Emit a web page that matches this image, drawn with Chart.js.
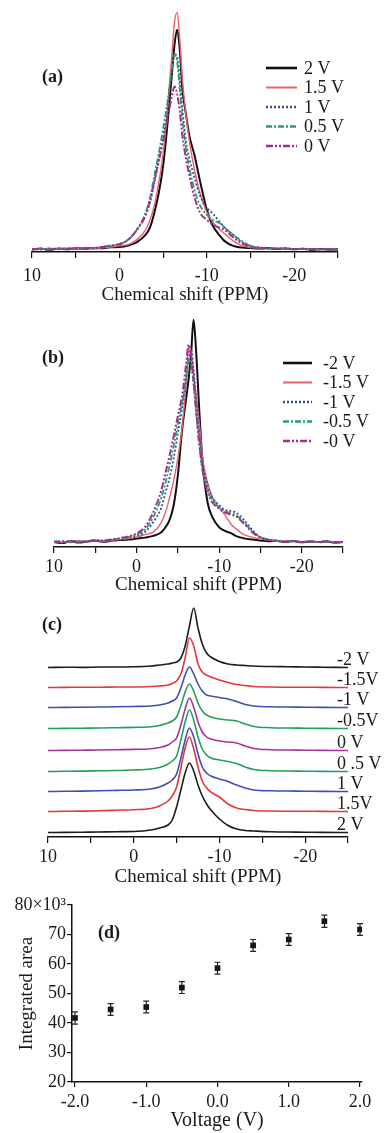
<!DOCTYPE html>
<html>
<head>
<meta charset="utf-8">
<script src="https://cdn.jsdelivr.net/npm/chart.js@4.4.1/dist/chart.umd.min.js"></script>
<style>
    html, body { margin: 0; padding: 0; background: #fff; }
    #page { position: relative; width: 387px; height: 1133px; overflow: hidden; }
    canvas { position: absolute; left: 0; }
</style>
</head>
<body>
<div id="page">
    <canvas id="chartA" width="387" height="310" style="top:0px"></canvas>
    <canvas id="chartB" width="387" height="300" style="top:296px"></canvas>
    <canvas id="chartC" width="387" height="295" style="top:596px"></canvas>
    <canvas id="chartD" width="387" height="242" style="top:891px"></canvas>
</div>
<script>
// Chemical shift sample points (ppm) used by panels (a) and (b)
const shiftGrid = [10, 9, 8, 7, 6, 5, 4, 3, 2, 1, 0, -1, -2, -3, -3.5, -4, -4.5, -5, -5.5, -6, -6.3, -6.6, -6.9, -7.2, -7.6, -8, -8.6, -9.2, -10, -10.7, -11.5, -12, -13, -14, -15, -16, -17, -18, -19, -20, -21, -22, -23, -24, -25];

// Panel (a): positive voltages (intensity, arbitrary units)
const labelsA = ['2 V', '1.5 V', '1 V', '0.5 V', '0 V'];
const a2V  = [1.0, 1.4, 0.9, 1.3, 1.1, 1.5, 1.3, 1.6, 1.5, 1.9, 2.0, 2.6, 4, 7, 10, 16, 24, 35, 52, 72, 84, 90, 82, 66, 56, 47, 39, 29, 17, 10.5, 6.5, 4.5, 2.5, 1.8, 1.6, 1.4, 1.6, 1.2, 1.4, 1.1, 1.3, 0.9, 1.2, 1.0, 1.1];
const a15V = [1.1, 1.2, 1.5, 1.0, 1.4, 1.2, 1.6, 1.3, 1.7, 2.0, 2.5, 3, 5, 9, 13, 19, 28, 40, 58, 80, 93, 97, 86, 70, 56, 45, 33, 24, 16, 12, 9, 7.5, 4.5, 2.6, 1.8, 1.5, 1.3, 1.5, 1.2, 1.3, 1.1, 1.2, 1.0, 1.2, 1.0];
const a1V  = [1.2, 1.0, 1.4, 1.2, 1.5, 1.3, 1.7, 1.5, 2.0, 2.6, 3.2, 5, 9, 15, 20, 28, 37, 47, 59, 73, 80, 79, 70, 58, 45, 38, 30, 23, 18, 15.5, 12, 10, 7, 4, 2.5, 1.8, 1.5, 1.3, 1.4, 1.2, 1.3, 1.0, 1.2, 1.1, 1.0];
const a05V = [1.0, 1.3, 1.1, 1.4, 1.2, 1.5, 1.4, 1.7, 2.1, 2.7, 3.3, 5, 9, 16, 22, 31, 40, 50, 61, 74, 80, 77, 66, 54, 42, 34, 25, 19, 15, 13, 11.5, 10, 7, 4.5, 2.5, 1.8, 1.5, 1.4, 1.2, 1.3, 1.1, 1.2, 1.0, 1.1, 1.0];
const a0V  = [1.1, 1.2, 1.0, 1.5, 1.3, 1.4, 1.6, 1.5, 2.0, 2.5, 3.1, 5, 9, 15, 21, 29, 37, 45, 54, 63, 67, 64, 57, 47, 38, 31, 22, 16, 13, 11, 9.8, 9, 6, 3.5, 2.2, 1.6, 1.4, 1.3, 1.5, 1.2, 1.3, 1.1, 1.2, 1.0, 1.1];

// Panel (b): negative voltages
const labelsB = ['-2 V', '-1.5 V', '-1 V', '-0.5 V', '-0 V'];
const bm2V  = [2.0, 1.6, 2.3, 1.8, 2.2, 2.5, 2.1, 2.6, 2.8, 3.0, 3.4, 3.8, 4.5, 6, 8, 11, 17, 29, 47, 60, 68, 78, 92, 80, 55, 34, 18, 12, 8, 6.5, 5.5, 4.5, 3.5, 3, 2.6, 2.3, 2.5, 2.0, 2.4, 1.9, 2.2, 2.0, 2.3, 1.8, 2.0];
const bm15V = [2.2, 1.8, 2.4, 2.0, 2.3, 2.6, 2.2, 2.8, 3.0, 3.4, 4.0, 5.0, 6.0, 10, 14, 20, 27, 36, 48, 66, 81, 79, 70, 62, 50, 36, 26, 20, 16, 13, 9, 7.5, 5, 4, 3.2, 2.8, 2.4, 2.1, 2.5, 2.0, 2.3, 2.1, 2.2, 1.9, 2.0];
const bm1V  = [2.0, 2.3, 1.9, 2.4, 2.1, 2.6, 2.4, 2.9, 3.2, 3.8, 4.5, 6, 10, 16, 22, 28, 36, 46, 56, 68, 76, 80, 72, 60, 45, 34, 25, 20, 17, 15, 14.5, 14, 11, 7, 4, 3, 2.6, 2.3, 2.5, 2.1, 2.2, 2.0, 2.3, 1.9, 2.1];
const bm05V = [2.1, 2.4, 2.0, 2.3, 2.2, 2.7, 2.5, 3.0, 3.4, 4.0, 5.0, 7, 12, 20, 26, 33, 41, 50, 58, 69, 76, 74, 66, 55, 41, 31, 23, 19, 16, 14.5, 13.5, 13, 10, 6.5, 4, 3, 2.5, 2.2, 2.4, 2.0, 2.3, 1.9, 2.2, 2.0, 2.1];
const bm0V  = [2.2, 1.9, 2.5, 2.1, 2.4, 2.8, 2.6, 3.1, 3.6, 4.3, 5.5, 8, 14, 23, 30, 37, 45, 53, 61, 74, 82, 77, 67, 56, 42, 31, 22, 18, 15.5, 14, 13, 12.5, 9.5, 6, 3.8, 2.8, 2.4, 2.2, 2.3, 2.0, 2.2, 2.0, 2.1, 1.9, 2.0];

// Panel (c): stacked spectra, each with its own baseline offset
const stackGrid = [10, 8, 6, 4, 2, 0, -2, -3, -4, -4.5, -5, -5.5, -6, -6.5, -7, -7.5, -8, -8.5, -9, -10, -11, -12, -13, -14, -16, -18, -20, -22, -25];
const stackLabels = ['-2 V', '-1.5V', '-1 V', '-0.5V', '0 V', '0 .5 V', '1 V', '1.5V', '2 V'];
const stackBase = [169, 149, 129, 108, 86, 65, 45, 25, 4];
const cm2V  = [0.5, 0.8, 0.6, 1.0, 1.0, 1.2, 2, 3, 4, 5, 6, 10, 22, 42, 60, 40, 24, 15, 11, 6.5, 4, 3, 2.5, 2, 1.5, 1.3, 1, 0.8, 0.5];
const cm15V = [0.5, 0.6, 0.8, 0.8, 1.0, 1.0, 1.5, 2, 3, 4.5, 7, 14, 30, 50, 42, 24, 16, 13, 11, 8, 5.5, 3.5, 2.5, 1.5, 1, 0.8, 0.8, 0.6, 0.5];
const cm1V  = [0.5, 0.6, 0.8, 1.0, 1.2, 1.5, 2, 3, 5, 7, 10, 20, 33, 41, 34, 24, 17, 13, 12, 10.5, 9, 6.5, 3.5, 2, 1.2, 1, 0.8, 0.6, 0.5];
const cm05V = [0.5, 0.6, 0.8, 1.0, 1.3, 1.6, 2.2, 3.5, 6, 8, 12, 23, 37, 45, 38, 26, 18, 14, 12, 10, 9, 8, 5, 2.5, 1.3, 1, 0.8, 0.6, 0.5];
const c0V   = [0.5, 0.6, 0.8, 1.0, 1.3, 1.6, 2.2, 3.5, 6, 9, 13, 26, 42, 53, 44, 29, 19, 14, 12, 10, 9, 8, 5, 2.5, 1.3, 1, 0.8, 0.6, 0.5];
const c05V  = [0.5, 0.7, 0.9, 1.2, 1.5, 2.0, 3, 4.5, 8, 11, 16, 32, 50, 62, 52, 35, 23, 17, 14, 12, 10.5, 8.5, 5, 2.5, 1.3, 1, 0.8, 0.6, 0.5];
const c1V   = [0.5, 0.7, 0.9, 1.2, 1.6, 2.0, 3, 5, 9, 12, 18, 34, 52, 64, 55, 38, 25, 19, 16, 13, 10.5, 7, 4, 2, 1.2, 1, 0.8, 0.6, 0.5];
const c15V  = [0.5, 0.7, 0.9, 1.3, 1.8, 2.3, 3.5, 6, 11, 16, 25, 44, 64, 75, 63, 45, 31, 24, 20, 15, 8, 4, 2.5, 1.5, 1, 0.8, 0.8, 0.6, 0.5];
const c2V   = [0.5, 0.6, 0.8, 1.0, 1.3, 1.5, 3, 5, 8, 13, 26, 43, 60, 70, 62, 48, 37, 29, 23, 14, 7.5, 4, 2.5, 2, 1.2, 1, 0.8, 0.6, 0.5];
const stackShapes = [cm2V, cm15V, cm1V, cm05V, c0V, c05V, c1V, c15V, c2V];
const stackColors = ['#1c1c1c', '#e2383c', '#3f4fb0', '#22a05a', '#a8329a', '#22a05a', '#3f4fb0', '#e2383c', '#1c1c1c'];

// Panel (d): integrated area vs voltage (x10^3)
const voltages = [-2, -1.5, -1, -0.5, 0, 0.5, 1, 1.5, 2];
const areas = [41.7, 44.6, 45.4, 52.0, 58.6, 66.3, 68.3, 74.5, 71.7];
const areaErr = [2.1, 2.0, 2.0, 2.0, 2.0, 2.0, 2.0, 2.1, 2.0];
const voltTicks = [-2, -1, 0, 1, 2];

const serif = '"Liberation Serif", "Times New Roman", serif';
const ink = '#1a1a1a';
Chart.defaults.font.family = serif;
Chart.defaults.color = ink;

function toPoints(grid, vals) {
    return grid.map((x, i) => ({ x: x, y: vals[i] }));
}

// Plugins: legend swatches, panel tags, stack labels, error bars
const legendLines = {
    id: 'legendLines',
    afterDraw(chart, args, opts) {
        const ctx = chart.ctx;
        ctx.save();
        ctx.font = '18px ' + serif;
        ctx.textBaseline = 'middle';
        chart.data.datasets.forEach((ds, i) => {
            const y = opts.y + i * opts.gap;
            ctx.strokeStyle = ds.borderColor;
            ctx.lineWidth = ds.borderWidth + 0.6;
            ctx.setLineDash(ds.borderDash || []);
            ctx.beginPath();
            ctx.moveTo(opts.x, y);
            ctx.lineTo(opts.x + opts.len, y);
            ctx.stroke();
            ctx.setLineDash([]);
            ctx.fillStyle = ink;
            ctx.fillText(ds.label, opts.textX, y + 1);
        });
        ctx.restore();
    }
};

const panelTag = {
    id: 'panelTag',
    afterDraw(chart, args, opts) {
        const ctx = chart.ctx;
        ctx.save();
        ctx.font = 'bold 18px ' + serif;
        ctx.fillStyle = ink;
        ctx.textBaseline = 'middle';
        ctx.fillText(opts.text, opts.x, opts.y);
        ctx.restore();
    }
};

const stackTags = {
    id: 'stackTags',
    afterDraw(chart) {
        const ctx = chart.ctx;
        const yScale = chart.scales.y;
        ctx.save();
        ctx.font = '18px ' + serif;
        ctx.fillStyle = ink;
        ctx.textBaseline = 'alphabetic';
        stackLabels.forEach((lab, i) => {
            ctx.fillText(lab, 337, yScale.getPixelForValue(stackBase[i]) - 3);
        });
        ctx.restore();
    }
};

const errorBars = {
    id: 'errorBars',
    afterDatasetsDraw(chart) {
        const ctx = chart.ctx;
        const xs = chart.scales.x, ys = chart.scales.y;
        ctx.save();
        ctx.strokeStyle = '#222';
        ctx.lineWidth = 1.2;
        voltages.forEach((v, i) => {
            const x = xs.getPixelForValue(v);
            const top = ys.getPixelForValue(areas[i] + areaErr[i]);
            const bot = ys.getPixelForValue(areas[i] - areaErr[i]);
            ctx.beginPath();
            ctx.moveTo(x, top); ctx.lineTo(x, bot);
            ctx.moveTo(x - 3, top); ctx.lineTo(x + 3, top);
            ctx.moveTo(x - 3, bot); ctx.lineTo(x + 3, bot);
            ctx.stroke();
        });
        ctx.restore();
    }
};

function shiftAxis(height, tickPad, titlePad) {
    return {
        type: 'linear',
        reverse: true,
        min: -25,
        max: 10,
        afterFit: function(scale) { scale.height = height; },
        border: { display: true, color: '#111', width: 1.5 },
        grid: { display: true, drawOnChartArea: false, drawTicks: true, tickLength: 6, color: '#111', lineWidth: 1.2 },
        ticks: {
            stepSize: 5,
            autoSkip: false,
            maxRotation: 0,
            padding: tickPad,
            color: ink,
            font: { size: 18 },
            callback: function(value) {
                return value % 10 === 0 ? String(value) : '';
            }
        },
        title: {
            display: true,
            text: 'Chemical shift (PPM)',
            color: ink,
            font: { size: 19 },
            padding: { top: 0, bottom: titlePad }
        }
    };
}

function spectrumOptions(pad, xAxis, yMax, extra) {
    return {
        responsive: false,
        animation: false,
        devicePixelRatio: 1,
        layout: { padding: pad },
        elements: { point: { radius: 0 }, line: { cubicInterpolationMode: 'monotone' } },
        plugins: Object.assign({ legend: { display: false }, tooltip: { enabled: false } }, extra),
        scales: {
            x: xAxis,
            y: { display: false, min: 0, max: yMax }
        }
    };
}

// Panel (a)
const stylesAB = [
    { color: '#111111', width: 2, dash: [] },
    { color: '#e8606a', width: 1.4, dash: [] },
    { color: '#3a4d9a', width: 1.8, dash: [2, 2] },
    { color: '#2c9e6a', width: 1.8, dash: [6, 2, 2, 2] },
    { color: '#a0308c', width: 2, dash: [7, 2, 2, 2, 2, 2] }
];

function spectrumSets(labels, series) {
    return series.map((vals, i) => ({
        label: labels[i],
        data: toPoints(shiftGrid, vals),
        borderColor: stylesAB[i].color,
        borderWidth: stylesAB[i].width,
        borderDash: stylesAB[i].dash,
        fill: false
    })).reverse();
}

const setsA = spectrumSets(labelsA, [a2V, a15V, a1V, a05V, a0V]);
new Chart(document.getElementById('chartA'), {
    type: 'line',
    data: { datasets: setsA },
    options: spectrumOptions({ top: 5, left: 32, right: 49, bottom: 0 }, shiftAxis(58, 7, 4), 100, {
        legendLines: { x: 266, y: 68, gap: 19.5, len: 31, textX: 304, reversed: true },
        panelTag: { text: '(a)', x: 42, y: 77 }
    }),
    plugins: [{
        id: 'legendLines',
        afterDraw(chart, args, opts) {
            // legend lists 2 V first, datasets are drawn in reverse order
            const fake = { ctx: chart.ctx, data: { datasets: chart.data.datasets.slice().reverse() } };
            legendLines.afterDraw(fake, args, opts);
        }
    }, panelTag]
});

// Panel (b)
const setsB = spectrumSets(labelsB, [bm2V, bm15V, bm1V, bm05V, bm0V]);
new Chart(document.getElementById('chartB'), {
    type: 'line',
    data: { datasets: setsB },
    options: spectrumOptions({ top: 4, left: 54, right: 44, bottom: 0 }, shiftAxis(49, 3, 0), 100, {
        legendLines: { x: 283, y: 67, gap: 19.5, len: 29, textX: 323 },
        panelTag: { text: '(b)', x: 42, y: 62 }
    }),
    plugins: [{
        id: 'legendLines',
        afterDraw(chart, args, opts) {
            const fake = { ctx: chart.ctx, data: { datasets: chart.data.datasets.slice().reverse() } };
            legendLines.afterDraw(fake, args, opts);
        }
    }, panelTag]
});

// Panel (c)
const setsC = stackShapes.map((shape, i) => ({
    label: stackLabels[i],
    data: toPoints(stackGrid, shape.map(v => v + stackBase[i])),
    borderColor: stackColors[i],
    borderWidth: 1.6,
    fill: false
}));
new Chart(document.getElementById('chartC'), {
    type: 'line',
    data: { datasets: setsC },
    options: spectrumOptions({ top: 7, left: 48, right: 39, bottom: 0 }, shiftAxis(54, 3, 3), 234, {
        panelTag: { text: '(c)', x: 42, y: 29 }
    }),
    plugins: [stackTags, panelTag]
});

// Panel (d)
new Chart(document.getElementById('chartD'), {
    type: 'scatter',
    data: {
        datasets: [{
            label: 'Integrated area',
            data: voltages.map((v, i) => ({ x: v, y: areas[i] })),
            pointStyle: 'rect',
            pointRadius: 4,
            backgroundColor: '#111',
            borderWidth: 0
        }]
    },
    options: {
        responsive: false,
        animation: false,
        devicePixelRatio: 1,
        layout: { padding: { top: 14, left: 0, right: 25, bottom: 0 } },
        plugins: {
            legend: { display: false },
            tooltip: { enabled: false },
            panelTag: { text: '(d)', x: 98, y: 42 }
        },
        scales: {
            x: {
                type: 'linear',
                min: -2.042,
                max: 2.028,
                afterFit: function(scale) { scale.height = 51; },
                afterBuildTicks: function(scale) { scale.ticks = voltTicks.map(v => ({ value: v })); },
                border: { display: true, color: '#111', width: 1.5 },
                grid: { display: true, drawOnChartArea: false, tickLength: 5, color: '#111', lineWidth: 1.2 },
                ticks: {
                    maxRotation: 0,
                    padding: 4,
                    color: ink,
                    font: { size: 18 },
                    callback: function(value) { return value.toFixed(1); }
                },
                title: { display: true, text: 'Voltage (V)', color: ink, font: { size: 20 }, padding: { top: 0, bottom: 0 } }
            },
            y: {
                min: 20,
                max: 80,
                afterFit: function(scale) { scale.width = 72; },
                border: { display: true, color: '#111', width: 1.5 },
                grid: { display: true, drawOnChartArea: false, tickLength: 5, color: '#111', lineWidth: 1.2 },
                ticks: {
                    stepSize: 10,
                    padding: 1,
                    color: ink,
                    font: { size: 18 },
                    callback: function(value) { return value === 80 ? '80×10³' : String(value); }
                },
                title: { display: true, text: 'Integrated area', color: ink, font: { size: 19 }, padding: { top: 16, bottom: 0 } }
            }
        }
    },
    plugins: [errorBars, panelTag]
});
</script>
</body>
</html>
